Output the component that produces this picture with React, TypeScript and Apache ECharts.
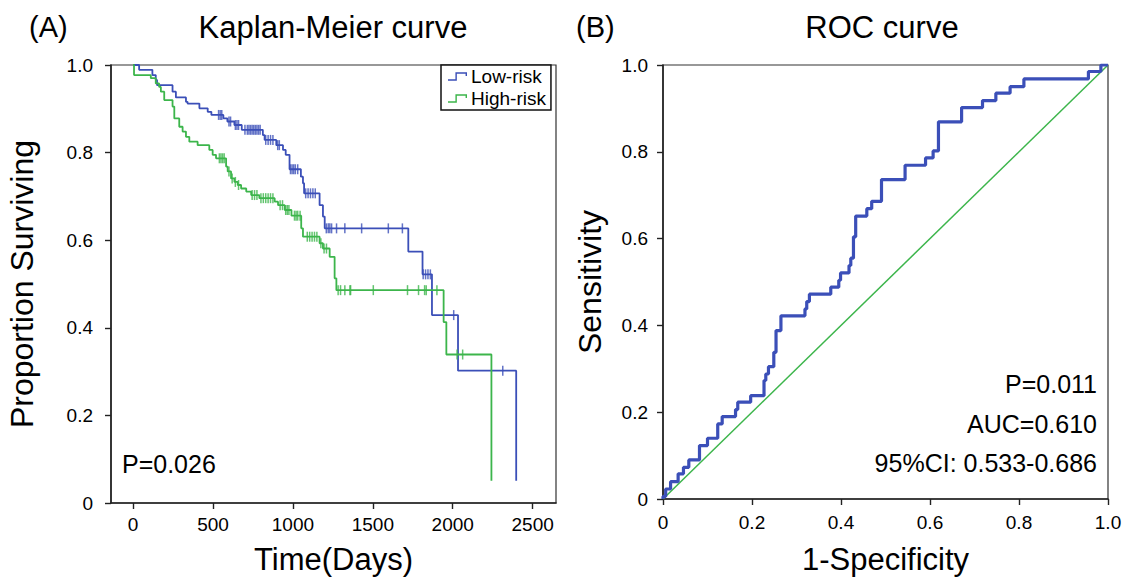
import React, { useEffect, useRef } from "react";
import * as echarts from "echarts";

const FONT = "'Liberation Sans', Arial, Helvetica, sans-serif";
const BLUE = "#3b4fb8";
const GREEN = "#3cb54b";

// Kaplan-Meier: Low-risk group (time in days, survival after event)
const lowRiskTimes = [0, 38, 121, 142, 150, 247, 268, 331, 341, 415, 467, 490, 565, 590, 634, 680, 812, 823, 896, 938, 955, 979, 1050, 1063, 1070, 1167, 1188, 1199, 1722, 1811, 1870, 2033, 2397];
const lowRiskSurv = [1.0, 0.989, 0.977, 0.966, 0.954, 0.939, 0.926, 0.916, 0.912, 0.901, 0.893, 0.886, 0.878, 0.871, 0.863, 0.852, 0.84, 0.829, 0.817, 0.806, 0.795, 0.762, 0.745, 0.73, 0.707, 0.68, 0.654, 0.627, 0.574, 0.522, 0.429, 0.302, 0.051];
const lowRiskCensored = [535, 545, 555, 600, 610, 640, 650, 660, 700, 715, 725, 735, 745, 755, 765, 775, 785, 795, 830, 845, 860, 875, 905, 915, 985, 995, 1005, 1015, 1030, 1080, 1095, 1110, 1125, 1140, 1209, 1221, 1231, 1242, 1273, 1325, 1430, 1597, 1685, 1815, 1830, 1845, 1860, 2006, 2313];

// Kaplan-Meier: High-risk group
const highRiskTimes = [0, 6, 111, 142, 163, 174, 195, 247, 258, 289, 310, 331, 352, 404, 477, 498, 519, 582, 592, 613, 634, 655, 676, 708, 739, 790, 886, 907, 949, 991, 1052, 1063, 1167, 1188, 1230, 1261, 1272, 1943, 1960, 2242];
const highRiskSurv = [1.0, 0.977, 0.97, 0.958, 0.95, 0.939, 0.92, 0.905, 0.878, 0.859, 0.848, 0.836, 0.825, 0.817, 0.806, 0.795, 0.787, 0.768, 0.757, 0.741, 0.733, 0.726, 0.718, 0.711, 0.703, 0.696, 0.688, 0.68, 0.669, 0.656, 0.627, 0.608, 0.593, 0.581, 0.562, 0.513, 0.486, 0.413, 0.339, 0.051];
const highRiskCensored = [540, 550, 560, 570, 600, 620, 640, 660, 745, 760, 775, 800, 815, 830, 845, 860, 875, 920, 935, 955, 965, 975, 1010, 1020, 1030, 1045, 1090, 1105, 1120, 1135, 1150, 1175, 1195, 1210, 1283, 1298, 1325, 1357, 1361, 1503, 1717, 1786, 1824, 1834, 1901, 2027, 2062];

const kmTimeTicks = [0, 500, 1000, 1500, 2000, 2500];

// ROC curve (1-specificity, sensitivity) corner points
const rocFpr = [0, 0.006, 0.017, 0.034, 0.046, 0.058, 0.082, 0.1, 0.123, 0.133, 0.163, 0.168, 0.197, 0.227, 0.231, 0.237, 0.249, 0.254, 0.265, 0.319, 0.323, 0.329, 0.377, 0.395, 0.399, 0.418, 0.422, 0.428, 0.433, 0.458, 0.469, 0.491, 0.544, 0.59, 0.607, 0.619, 0.671, 0.718, 0.748, 0.78, 0.811, 0.956, 0.984, 1.0];
const rocTpr = [0, 0.006, 0.023, 0.04, 0.058, 0.073, 0.09, 0.123, 0.14, 0.173, 0.19, 0.206, 0.223, 0.238, 0.273, 0.288, 0.305, 0.338, 0.388, 0.422, 0.438, 0.455, 0.472, 0.488, 0.504, 0.521, 0.538, 0.555, 0.604, 0.652, 0.669, 0.686, 0.736, 0.769, 0.786, 0.802, 0.869, 0.902, 0.918, 0.935, 0.95, 0.968, 0.985, 1.0];

const kmPValue = "P=0.026";
const rocNotes = ["P=0.011", "AUC=0.610", "95%CI: 0.533-0.686"];

function survivalAt(times: number[], surv: number[], t: number): number {
  let s = surv[0];
  for (let i = 0; i < times.length; i++) {
    if (times[i] <= t) s = surv[i];
    else break;
  }
  return s;
}

const fmt = (v: number) => (v === 0 ? "0" : v.toFixed(1));

const axisLineStyle = { show: true, onZero: false, lineStyle: { color: "#222", width: 1.6 } };
const tickStyle = { show: true, inside: false, length: 6, lineStyle: { color: "#222", width: 1.4 } };

const legendIcon =
  "path://M0,8.3 L7.3,8.3 L7.3,1.3 L18.7,1.3 L18.7,5 L17.3,5 L17.3,2.7 L8.7,2.7 L8.7,9.7 L0,9.7 Z";

const titleStyle = { fontSize: 31, fontWeight: "normal", color: "#000", fontFamily: FONT };
const nameStyle = { fontSize: 31, color: "#000", fontFamily: FONT };

export default function App() {
  const ref = useRef<HTMLDivElement>(null);
  useEffect(() => {
    document.body.style.margin = "0";
    const chart = echarts.init(ref.current!, null, { renderer: "svg" });
    const option: any = {
      animation: false,
      backgroundColor: "#fff",
      textStyle: { fontFamily: FONT },
      title: [
        { text: "(A)", left: 24, top: 7, textStyle: { ...titleStyle, fontSize: 29 } },
        { text: "Kaplan-Meier curve", left: 328, textAlign: "center", top: 7, textStyle: titleStyle },
        { text: "(B)", left: 571, top: 7, textStyle: { ...titleStyle, fontSize: 29 } },
        { text: "ROC curve", left: 877, textAlign: "center", top: 7, textStyle: titleStyle },
      ],
      legend: {
        data: ["Low-risk", "High-risk"],
        orient: "vertical",
        left: 441,
        top: 65,
        padding: [2, 5, 2, 7],
        itemGap: 3,
        itemWidth: 19,
        itemHeight: 9,
        icon: legendIcon,
        selectedMode: false,
        borderColor: "#111",
        borderWidth: 1.5,
        backgroundColor: "#fff",
        textStyle: { fontSize: 19, color: "#000", fontFamily: FONT, padding: [0, 0, 0, -1] },
      },
      grid: [
        { left: 111, top: 65, width: 445, height: 438, show: true, borderColor: "#333", borderWidth: 1.2, containLabel: false, outerBoundsMode: "none" },
        { left: 663, top: 65, width: 445, height: 434, show: true, borderColor: "#333", borderWidth: 1.2, containLabel: false, outerBoundsMode: "none" },
      ],
      xAxis: [
        {
          gridIndex: 0,
          type: "value",
          min: -138,
          max: 2646,
          splitLine: { show: false },
          axisLine: axisLineStyle,
          axisTick: { ...tickStyle, customValues: kmTimeTicks },
          axisLabel: { customValues: kmTimeTicks, formatter: (v: number) => String(v), fontSize: 19, color: "#000", margin: 12, fontFamily: FONT },
          name: "Time(Days)",
          nameLocation: "middle",
          nameGap: 41,
          nameTextStyle: nameStyle,
        },
        {
          gridIndex: 1,
          type: "value",
          min: 0,
          max: 1,
          interval: 0.2,
          splitLine: { show: false },
          axisLine: axisLineStyle,
          axisTick: tickStyle,
          axisLabel: { formatter: fmt, fontSize: 19, color: "#000", margin: 14, fontFamily: FONT },
          name: "1-Specificity",
          nameLocation: "middle",
          nameGap: 45,
          nameTextStyle: nameStyle,
        },
      ],
      yAxis: [
        {
          gridIndex: 0,
          type: "value",
          min: 0,
          max: 1,
          interval: 0.2,
          splitLine: { show: false },
          axisLine: axisLineStyle,
          axisTick: tickStyle,
          axisLabel: { formatter: fmt, fontSize: 19, color: "#000", margin: 18, fontFamily: FONT },
          name: "Proportion Surviving",
          nameLocation: "middle",
          nameGap: 73,
          nameTextStyle: { ...nameStyle, fontSize: 32 },
        },
        {
          gridIndex: 1,
          type: "value",
          min: 0,
          max: 1,
          interval: 0.2,
          splitLine: { show: false },
          axisLine: axisLineStyle,
          axisTick: tickStyle,
          axisLabel: { formatter: fmt, fontSize: 19, color: "#000", margin: 15, fontFamily: FONT },
          name: "Sensitivity",
          nameLocation: "middle",
          nameGap: 57,
          nameTextStyle: { ...nameStyle, fontSize: 32 },
        },
      ],
      series: [
        {
          name: "Low-risk",
          type: "line",
          xAxisIndex: 0,
          yAxisIndex: 0,
          step: "end",
          symbol: "none",
          color: BLUE,
          lineStyle: { color: BLUE, width: 1.8 },
          data: lowRiskTimes.map((t, i) => [t, lowRiskSurv[i]]),
          z: 3,
        },
        {
          name: "High-risk",
          type: "line",
          xAxisIndex: 0,
          yAxisIndex: 0,
          step: "end",
          symbol: "none",
          color: GREEN,
          lineStyle: { color: GREEN, width: 1.8 },
          data: highRiskTimes.map((t, i) => [t, highRiskSurv[i]]),
          z: 3,
        },
        {
          name: "Low-risk censored",
          type: "scatter",
          xAxisIndex: 0,
          yAxisIndex: 0,
          symbol: "rect",
          symbolSize: [1.5, 10],
          itemStyle: { color: BLUE },
          data: lowRiskCensored.map((t) => [t, survivalAt(lowRiskTimes, lowRiskSurv, t)]),
          z: 4,
        },
        {
          name: "High-risk censored",
          type: "scatter",
          xAxisIndex: 0,
          yAxisIndex: 0,
          symbol: "rect",
          symbolSize: [1.5, 10],
          itemStyle: { color: GREEN },
          data: highRiskCensored.map((t) => [t, survivalAt(highRiskTimes, highRiskSurv, t)]),
          z: 4,
        },
        {
          name: "Reference",
          type: "line",
          xAxisIndex: 1,
          yAxisIndex: 1,
          symbol: "none",
          lineStyle: { color: GREEN, width: 1.5 },
          data: [[0, 0], [1, 1]],
          z: 2,
        },
        {
          name: "ROC",
          type: "line",
          xAxisIndex: 1,
          yAxisIndex: 1,
          step: "start",
          symbol: "none",
          lineStyle: { color: BLUE, width: 3.2 },
          data: rocFpr.map((f, i) => [f, rocTpr[i]]),
          z: 3,
        },
      ],
      graphic: [
        {
          type: "text",
          x: 122,
          y: 464,
          style: { text: kmPValue, fontSize: 25, fontFamily: FONT, fill: "#000", align: "left", verticalAlign: "middle" },
        },
        ...rocNotes.map((t, i) => ({
          type: "text",
          x: 1097,
          y: 384 + i * 39.5,
          style: { text: t, fontSize: 25, fontFamily: FONT, fill: "#000", align: "right", verticalAlign: "middle" },
        })),
      ],
    };
    chart.setOption(option);
    return () => chart.dispose();
  }, []);
  return <div ref={ref} style={{ width: 1124, height: 580 }} />;
}
